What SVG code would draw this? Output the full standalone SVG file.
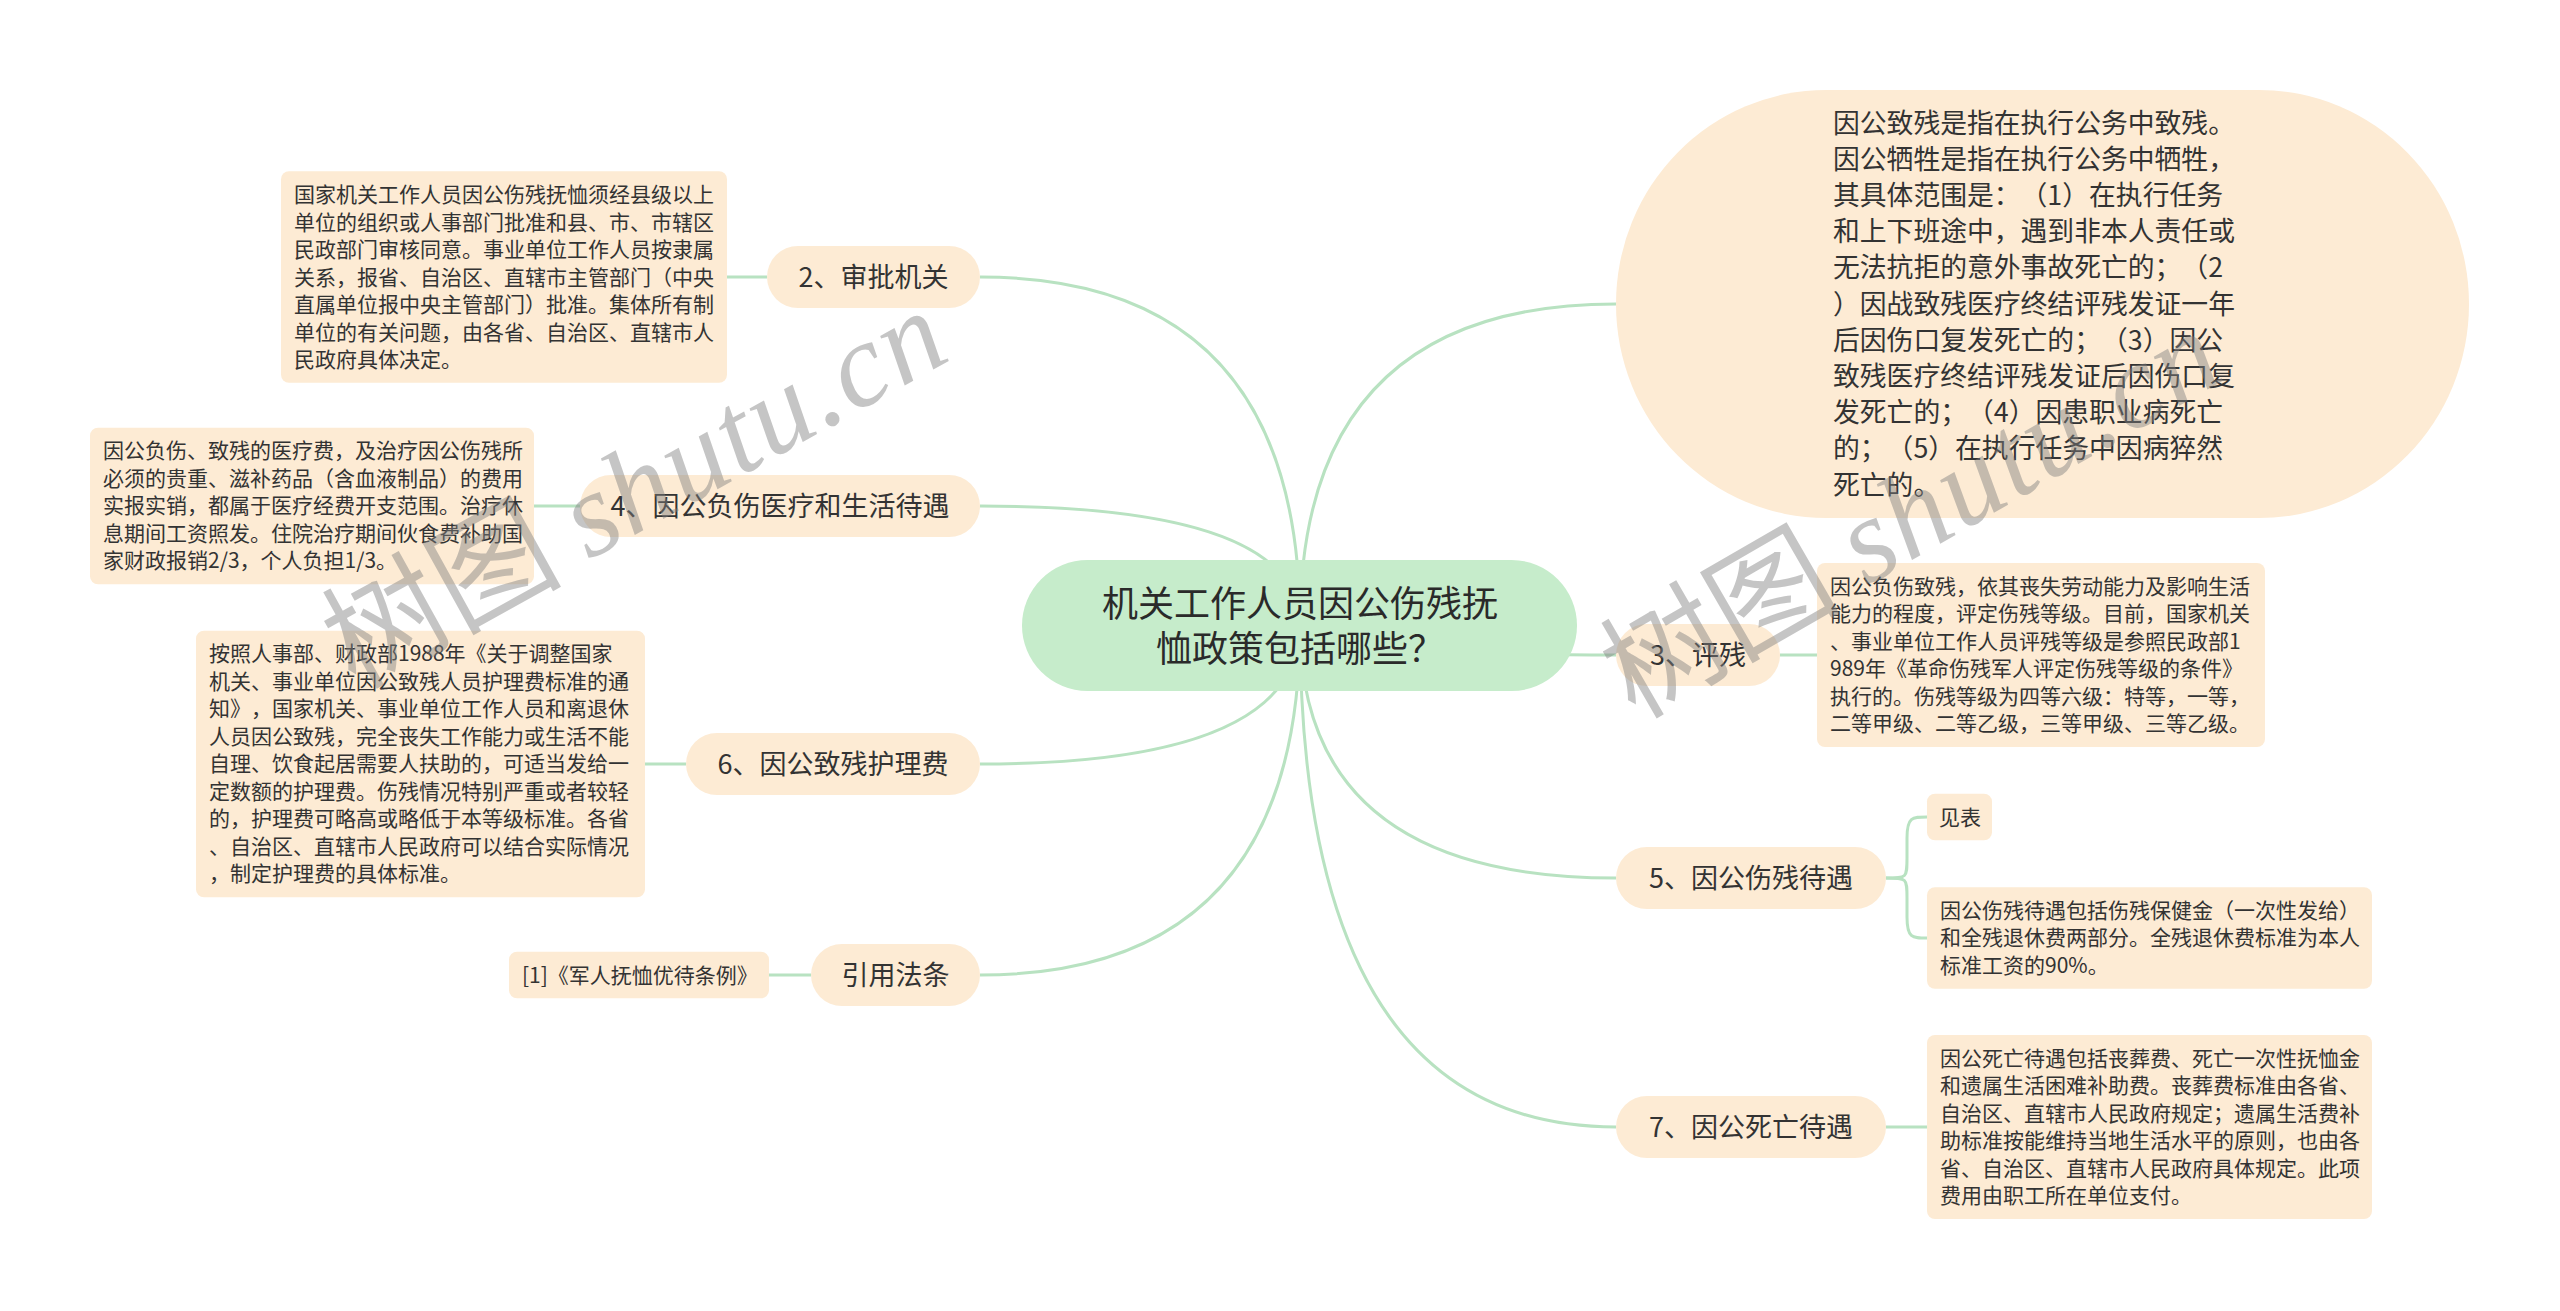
<svg xmlns="http://www.w3.org/2000/svg" width="2560" height="1311" viewBox="0 0 2560 1311">
<style>
text{text-spacing-trim:space-all}
.conn{fill:none;stroke:#b8e2c1;stroke-width:3}
.box{fill:#fdebd4}
.center{fill:#c6eccb}
.t{font-family:"Noto Sans CJK SC","Noto Sans",sans-serif;fill:#333333}
.td{font-size:21px}
.tb{font-size:27px;text-anchor:middle}
.tc{font-size:36px;text-anchor:middle;fill:#2a2a2a}
.to{font-size:26.8px}
.wm{font-family:"Noto Sans CJK SC",sans-serif;font-size:120px;fill:#808080;opacity:0.45}
.wml{font-family:"Liberation Serif",serif;font-style:italic;letter-spacing:2px}
</style>
<rect width="2560" height="1311" fill="#ffffff"/>
<g id="connectors">
<path class="conn" d="M1300 625 Q1300 277 980 277"/>
<path class="conn" d="M1300 625 Q1300 506 980 506"/>
<path class="conn" d="M1300 625 Q1300 764 980 764"/>
<path class="conn" d="M1300 625 Q1300 975 980 975"/>
<path class="conn" d="M1300 625 Q1300 304 1616 304"/>
<path class="conn" d="M1300 625 Q1300 655 1616 655"/>
<path class="conn" d="M1300 625 Q1300 878 1616 878"/>
<path class="conn" d="M1300 625 Q1300 1127 1616 1127"/>
<path class="conn" d="M727 277 L767 277"/>
<path class="conn" d="M534 506 L580 506"/>
<path class="conn" d="M645 764 L686 764"/>
<path class="conn" d="M769 975 L811 975"/>
<path class="conn" d="M1780 655 L1817 655"/>
<path class="conn" d="M1886 878 C1907 878 1907 878 1907 858 L1907 838 C1907 817 1912 817 1927 817"/>
<path class="conn" d="M1886 878 C1907 878 1907 878 1907 898 L1907 917 C1907 938 1912 938 1927 938"/>
<path class="conn" d="M1886 1127 L1927 1127"/>
</g>
<g id="root">
<rect class="center" x="1022" y="560" width="555" height="131" rx="65.5"/>
<text class="t tc" x="1300" y="617">机关工作人员因公伤残抚</text>
<text class="t tc" x="1300" y="662">恤政策包括哪些？</text>
</g>
<g id="n2">
<rect class="box" x="767" y="246" width="213" height="62" rx="31"/>
<text class="t tb" x="873.5" y="287">2、审批机关</text>
</g>
<g id="n2d">
<rect class="box" x="281" y="171.25" width="446" height="211.5" rx="8"/>
<text class="t td" x="294" y="202">国家机关工作人员因公伤残抚恤须经县级以上</text>
<text class="t td" x="294" y="229.5">单位的组织或人事部门批准和县、市、市辖区</text>
<text class="t td" x="294" y="257">民政部门审核同意。事业单位工作人员按隶属</text>
<text class="t td" x="294" y="284.5">关系，报省、自治区、直辖市主管部门（中央</text>
<text class="t td" x="294" y="312">直属单位报中央主管部门）批准。集体所有制</text>
<text class="t td" x="294" y="339.5">单位的有关问题，由各省、自治区、直辖市人</text>
<text class="t td" x="294" y="367">民政府具体决定。</text>
</g>
<g id="n4">
<rect class="box" x="580" y="475" width="400" height="62" rx="31"/>
<text class="t tb" x="780" y="516">4、因公负伤医疗和生活待遇</text>
</g>
<g id="n4d">
<rect class="box" x="90" y="427.75" width="444" height="156.5" rx="8"/>
<text class="t td" x="103" y="458.25">因公负伤、致残的医疗费，及治疗因公伤残所</text>
<text class="t td" x="103" y="485.75">必须的贵重、滋补药品（含血液制品）的费用</text>
<text class="t td" x="103" y="513.25">实报实销，都属于医疗经费开支范围。治疗休</text>
<text class="t td" x="103" y="540.75">息期间工资照发。住院治疗期间伙食费补助国</text>
<text class="t td" x="103" y="568.25">家财政报销2/3，个人负担1/3。</text>
</g>
<g id="n6">
<rect class="box" x="686" y="733" width="294" height="62" rx="31"/>
<text class="t tb" x="833" y="774">6、因公致残护理费</text>
</g>
<g id="n6d">
<rect class="box" x="196" y="630.75" width="449" height="266.5" rx="8"/>
<text class="t td" x="209" y="661.25">按照人事部、财政部1988年《关于调整国家</text>
<text class="t td" x="209" y="688.75">机关、事业单位因公致残人员护理费标准的通</text>
<text class="t td" x="209" y="716.25">知》，国家机关、事业单位工作人员和离退休</text>
<text class="t td" x="209" y="743.75">人员因公致残，完全丧失工作能力或生活不能</text>
<text class="t td" x="209" y="771.25">自理、饮食起居需要人扶助的，可适当发给一</text>
<text class="t td" x="209" y="798.75">定数额的护理费。伤残情况特别严重或者较轻</text>
<text class="t td" x="209" y="826.25">的，护理费可略高或略低于本等级标准。各省</text>
<text class="t td" x="209" y="853.75">、自治区、直辖市人民政府可以结合实际情况</text>
<text class="t td" x="209" y="881.25">，制定护理费的具体标准。</text>
</g>
<g id="nref">
<rect class="box" x="811" y="944" width="169" height="62" rx="31"/>
<text class="t tb" x="895.5" y="985">引用法条</text>
</g>
<g id="nrefd">
<rect class="box" x="509" y="951.75" width="260" height="46.5" rx="8"/>
<text class="t td" x="522" y="982.5">[1]《军人抚恤优待条例》</text>
</g>
<g id="n1">
<rect class="box" x="1616" y="90" width="853" height="428" rx="210" ry="214"/>
<text class="t to" x="1833" y="132.5">因公致残是指在执行公务中致残。</text>
<text class="t to" x="1833" y="168.7">因公牺牲是指在执行公务中牺牲，</text>
<text class="t to" x="1833" y="204.9">其具体范围是：（1）在执行任务</text>
<text class="t to" x="1833" y="241.1">和上下班途中，遇到非本人责任或</text>
<text class="t to" x="1833" y="277.3">无法抗拒的意外事故死亡的；（2</text>
<text class="t to" x="1833" y="313.5">）因战致残医疗终结评残发证一年</text>
<text class="t to" x="1833" y="349.7">后因伤口复发死亡的；（3）因公</text>
<text class="t to" x="1833" y="385.9">致残医疗终结评残发证后因伤口复</text>
<text class="t to" x="1833" y="422.1">发死亡的；（4）因患职业病死亡</text>
<text class="t to" x="1833" y="458.3">的；（5）在执行任务中因病猝然</text>
<text class="t to" x="1833" y="494.5">死亡的。</text>
</g>
<g id="n3">
<rect class="box" x="1616" y="624" width="164" height="62" rx="31"/>
<text class="t tb" x="1698" y="665">3、评残</text>
</g>
<g id="n3d">
<rect class="box" x="1817" y="563" width="448" height="184" rx="8"/>
<text class="t td" x="1830" y="593.5">因公负伤致残，依其丧失劳动能力及影响生活</text>
<text class="t td" x="1830" y="621">能力的程度，评定伤残等级。目前，国家机关</text>
<text class="t td" x="1830" y="648.5">、事业单位工作人员评残等级是参照民政部1</text>
<text class="t td" x="1830" y="676">989年《革命伤残军人评定伤残等级的条件》</text>
<text class="t td" x="1830" y="703.5">执行的。伤残等级为四等六级：特等，一等，</text>
<text class="t td" x="1830" y="731">二等甲级、二等乙级，三等甲级、三等乙级。</text>
</g>
<g id="n5">
<rect class="box" x="1616" y="847" width="270" height="62" rx="31"/>
<text class="t tb" x="1751" y="888">5、因公伤残待遇</text>
</g>
<g id="n5a">
<rect class="box" x="1927" y="793.75" width="65" height="46.5" rx="8"/>
<text class="t td" x="1939" y="824.5">见表</text>
</g>
<g id="n5b">
<rect class="box" x="1927" y="887.25" width="445" height="101.5" rx="8"/>
<text class="t td" x="1940" y="917.75">因公伤残待遇包括伤残保健金（一次性发给）</text>
<text class="t td" x="1940" y="945.25">和全残退休费两部分。全残退休费标准为本人</text>
<text class="t td" x="1940" y="972.75">标准工资的90%。</text>
</g>
<g id="n7">
<rect class="box" x="1616" y="1096" width="270" height="62" rx="31"/>
<text class="t tb" x="1751" y="1137">7、因公死亡待遇</text>
</g>
<g id="n7d">
<rect class="box" x="1927" y="1035" width="445" height="184" rx="8"/>
<text class="t td" x="1940" y="1065.5">因公死亡待遇包括丧葬费、死亡一次性抚恤金</text>
<text class="t td" x="1940" y="1093">和遗属生活困难补助费。丧葬费标准由各省、</text>
<text class="t td" x="1940" y="1120.5">自治区、直辖市人民政府规定；遗属生活费补</text>
<text class="t td" x="1940" y="1148">助标准按能维持当地生活水平的原则，也由各</text>
<text class="t td" x="1940" y="1175.5">省、自治区、直辖市人民政府具体规定。此项</text>
<text class="t td" x="1940" y="1203">费用由职工所在单位支付。</text>
</g>
<g id="watermark">
<text class="wm" transform="translate(355 690) rotate(-29)">树图 <tspan class="wml">shutu.cn</tspan></text>
<text class="wm" transform="translate(1635 720) rotate(-30)">树图 <tspan class="wml">shutu.cn</tspan></text>
</g>
</svg>
